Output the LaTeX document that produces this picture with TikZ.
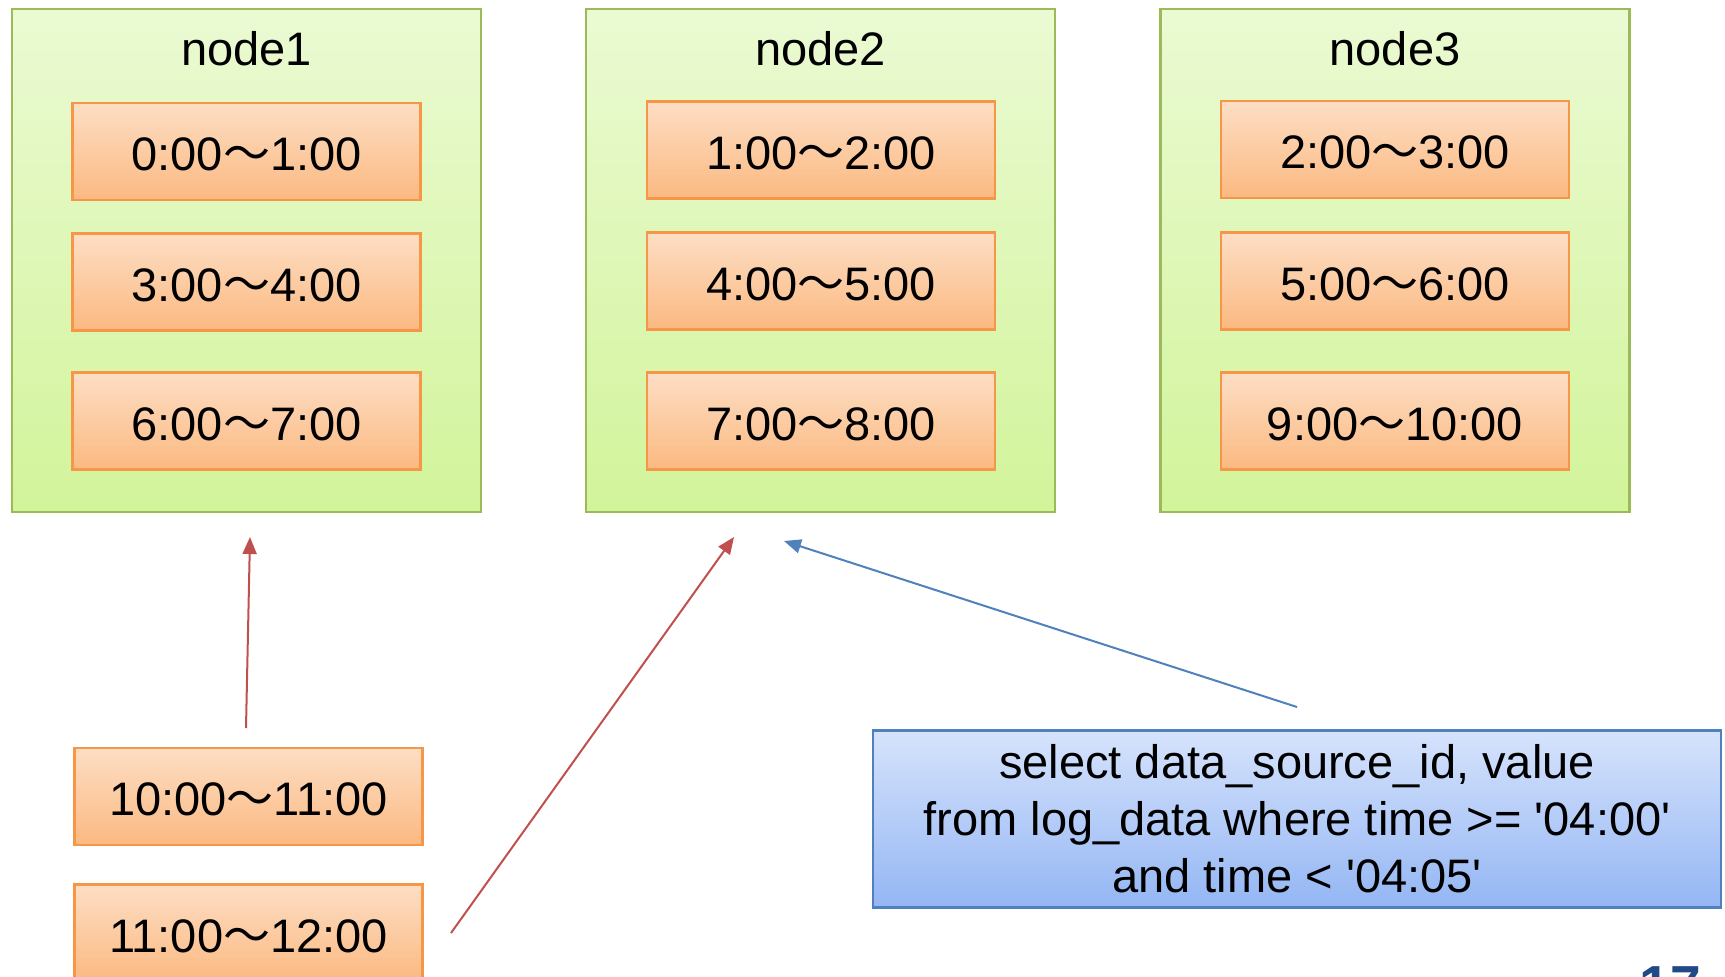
\documentclass[tikz,border=0pt]{standalone}
\usepackage{fontspec}
\setmainfont{Liberation Sans}
\newfontfamily\cjkfont{Noto Sans CJK JP}
\usetikzlibrary{arrows.meta}

\definecolor{grnline}{HTML}{9BBB59}
\definecolor{grntop}{HTML}{EBFAD3}
\definecolor{grnbot}{HTML}{D2F49A}
\definecolor{orgline}{HTML}{F79646}
\definecolor{orgtop}{HTML}{FDDEC4}
\definecolor{orgbot}{HTML}{FBB981}
\definecolor{bluline}{HTML}{4F81BD}
\definecolor{blutop}{HTML}{D6E3FC}
\definecolor{blubot}{HTML}{94B6F4}
\definecolor{redarrow}{HTML}{C0504D}
\definecolor{pagenum}{HTML}{1F4A86}

% a time range written with a full-width wave dash
\newcommand{\trange}[2]{#1{\cjkfont ～}#2}
% straight single quote for the SQL literals
\newcommand{\sq}{\textquotesingle}

\begin{document}
\begin{tikzpicture}[x=0.5pt,y=-0.5pt,
  txt/.style={font=\fontsize{23.5}{28.5}\selectfont},
  server/.style={draw=grnline, line width=1.1pt, top color=grntop, bottom color=grnbot,
    minimum width=234.5pt, minimum height=251.5pt, inner sep=0pt},
  title/.style={txt, anchor=base, inner sep=0pt},
  slot/.style={txt, draw=orgline, line width=1.1pt, top color=orgtop, bottom color=orgbot,
    minimum width=174pt, minimum height=48.5pt, inner sep=0pt,
    text height=19pt, text depth=0pt},
  query/.style={txt, draw=bluline, line width=1.1pt, top color=blutop, bottom color=blubot,
    minimum width=424pt, minimum height=88.5pt, inner sep=0pt, align=center},
  feed/.style={line width=1pt, -{Triangle[length=8.5pt,width=7pt]}}]

\useasboundingbox (0,0) rectangle (1725,976);
\clip (0,0) rectangle (1725,976);

% servers
\node[server] (n1) at (246.5,260.5) {};
\node[server] (n2) at (820.5,260.5) {};
\node[server] (n3) at (1395,260.5) {};
\node[title] (t1) at (246.5,65) {node1};
\node[title] (t2) at (820.5,65) {node2};
\node[title] (t3) at (1395,65) {node3};

% partitions held by each server
\node[slot] (p01) at (246.5,151.5) {\trange{0:00}{1:00}};
\node[slot] (p34) at (246.5,282) {\trange{3:00}{4:00}};
\node[slot] (p67) at (246.5,421) {\trange{6:00}{7:00}};

\node[slot] (p12) at (821,150) {\trange{1:00}{2:00}};
\node[slot] (p45) at (821,281) {\trange{4:00}{5:00}};
\node[slot] (p78) at (821,421) {\trange{7:00}{8:00}};

\node[slot] (p23) at (1395,149.5) {\trange{2:00}{3:00}};
\node[slot] (p56) at (1395,281) {\trange{5:00}{6:00}};
\node[slot] (p910) at (1395,421) {\trange{9:00}{10:00}};

% new partitions
\node[slot] (p1011) at (248.5,796.5) {\trange{10:00}{11:00}};
\node[slot] (p1112) at (248.5,933) {\trange{11:00}{12:00}};

% query
\node[query] (q) at (1297,819) {select data\_source\_id, value\\from log\_data where time >= \sq04:00\sq\\and time < \sq04:05\sq};

% page number
\node[anchor=base, inner sep=0pt, text=pagenum, font=\fontsize{27.5}{30}\selectfont\bfseries] (pg) at (1670,1004) {17};

% arrow ends
\coordinate (a1s) at (246,728);
\coordinate (a1e) at (250,537);
\coordinate (a2s) at (451,933);
\coordinate (a2e) at (734,537);
\coordinate (a3s) at (1297,707);
\coordinate (a3e) at (784,541);

\draw[feed, draw=redarrow, fill=redarrow] (a1s) -- (a1e);
\draw[feed, draw=redarrow, fill=redarrow] (a2s) -- (a2e);
\draw[feed, draw=bluline, fill=bluline] (a3s) -- (a3e);
\end{tikzpicture}
\end{document}
